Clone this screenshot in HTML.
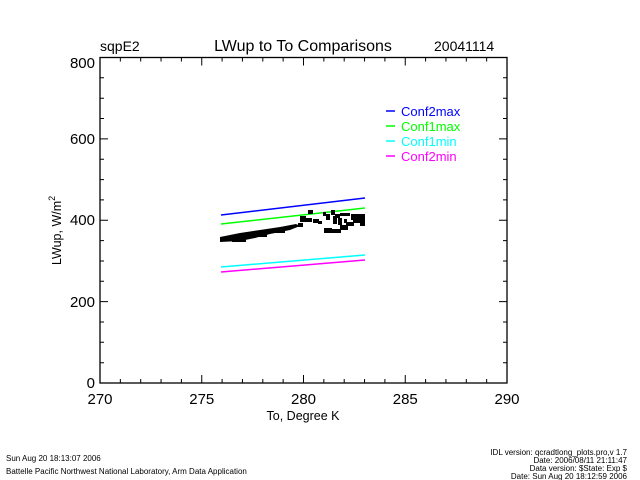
<!DOCTYPE html>
<html><head><meta charset="utf-8"><style>
html,body{margin:0;padding:0;background:#fff;}
svg{display:block;}
text{font-family:"Liberation Sans",sans-serif;fill:#000;}
</style></head><body>
<svg width="640" height="480" viewBox="0 0 640 480">
<rect width="640" height="480" fill="#fff"/>
<g stroke="#000" stroke-width="1.3" fill="none">
<rect x="100" y="57.5" width="407" height="325.5"/>
</g>
<g stroke="#000" stroke-width="1">
<path d="M120.35 383v-4M140.7 383v-4M161.05 383v-4M181.4 383v-4M222.1 383v-4M242.45 383v-4M262.8 383v-4M283.15 383v-4M323.85 383v-4M344.2 383v-4M364.55 383v-4M384.9 383v-4M425.6 383v-4M445.95 383v-4M466.3 383v-4M486.65 383v-4M201.75 383v-8M303.5 383v-8M405.25 383v-8"/>
<path d="M120.35 57.5v4M140.7 57.5v4M161.05 57.5v4M181.4 57.5v4M222.1 57.5v4M242.45 57.5v4M262.8 57.5v4M283.15 57.5v4M323.85 57.5v4M344.2 57.5v4M364.55 57.5v4M384.9 57.5v4M425.6 57.5v4M445.95 57.5v4M466.3 57.5v4M486.65 57.5v4M201.75 57.5v8M303.5 57.5v8M405.25 57.5v8"/>
<path d="M100 362.7h4M100 342.3h4M100 322h4M100 281.3h4M100 261h4M100 240.6h4M100 199.9h4M100 179.6h4M100 159.2h4M100 118.5h4M100 98.2h4M100 77.8h4M100 301.6h8M100 220.3h8M100 138.9h8"/>
<path d="M507 362.7h-4M507 342.3h-4M507 322h-4M507 281.3h-4M507 261h-4M507 240.6h-4M507 199.9h-4M507 179.6h-4M507 159.2h-4M507 118.5h-4M507 98.2h-4M507 77.8h-4M507 301.6h-8M507 220.3h-8M507 138.9h-8"/>
</g>
<g font-size="15" text-anchor="end">
<text x="95" y="388">0</text>
<text x="95" y="307">200</text>
<text x="95" y="225">400</text>
<text x="95" y="144">600</text>
<text x="95" y="68">800</text>
</g>
<g font-size="15" text-anchor="middle">
<text x="100" y="404">270</text>
<text x="201.75" y="404">275</text>
<text x="303.5" y="404">280</text>
<text x="405.25" y="404">285</text>
<text x="507" y="404">290</text>
</g>
<text x="303" y="420" font-size="12.5" text-anchor="middle">To, Degree K</text>
<text transform="translate(61,265) rotate(-90)" font-size="12.5">LWup, W/m<tspan font-size="9" dy="-6">2</tspan></text>
<text x="100" y="51" font-size="14">sqpE2</text>
<text x="303" y="51" font-size="16" text-anchor="middle">LWup to To Comparisons</text>
<text x="434" y="51" font-size="14">20041114</text>
<g stroke-width="1.5" fill="none">
<line x1="221" y1="215" x2="365" y2="198" stroke="#0000ff"/>
<line x1="221" y1="224" x2="365" y2="208" stroke="#00ff00"/>
<line x1="221" y1="267" x2="365" y2="255" stroke="#00ffff"/>
<line x1="221" y1="272" x2="365" y2="260" stroke="#ff00ff"/>
</g>
<g fill="#000">
<polygon points="220,237 240,233 260,230 280,227 296,224 300,226 290,230 270,234 255,238 240,241 220,242"/>
<rect x="232" y="239" width="14" height="3"/>
<rect x="255" y="234" width="12" height="3"/>
<rect x="275" y="230" width="10" height="3"/>
<rect x="300" y="216" width="6" height="6"/>
<rect x="298" y="223" width="5" height="4"/>
<rect x="308" y="210" width="5" height="4"/>
<rect x="304" y="218" width="8" height="4"/>
<rect x="313" y="219" width="6" height="4"/>
<rect x="318" y="221" width="4" height="3"/>
<rect x="323" y="212" width="3" height="4"/>
<rect x="326" y="214" width="4" height="6"/>
<rect x="331" y="210" width="4" height="5"/>
<rect x="333" y="216" width="4" height="8"/>
<rect x="335" y="214" width="5" height="4"/>
<rect x="338" y="218" width="4" height="7"/>
<rect x="340" y="213" width="6" height="3"/>
<rect x="344" y="219" width="3" height="4"/>
<rect x="346" y="213" width="4" height="3"/>
<rect x="348" y="222" width="6" height="4"/>
<rect x="351" y="214" width="6" height="6"/>
<rect x="353" y="219" width="10" height="4"/>
<rect x="357" y="214" width="8" height="6"/>
<rect x="324" y="228" width="8" height="5"/>
<rect x="331" y="229" width="10" height="4"/>
<rect x="340" y="225" width="8" height="5"/>
<rect x="346" y="222" width="6" height="4"/>
<rect x="360" y="220" width="5" height="6"/>
</g>
<g stroke-width="1.5">
<line x1="386" y1="111" x2="395" y2="111" stroke="#0000ff"/>
<line x1="386" y1="126" x2="395" y2="126" stroke="#00ff00"/>
<line x1="386" y1="141" x2="395" y2="141" stroke="#00ffff"/>
<line x1="386" y1="156" x2="395" y2="156" stroke="#ff00ff"/>
</g>
<g font-size="13">
<text x="401" y="116" style="fill:#0000ff">Conf2max</text>
<text x="401" y="131" style="fill:#00ff00">Conf1max</text>
<text x="401" y="146" style="fill:#00ffff">Conf1min</text>
<text x="401" y="161" style="fill:#ff00ff">Conf2min</text>
</g>
<g font-size="8">
<text x="6" y="461">Sun Aug 20 18:13:07 2006</text>
<text x="6" y="474">Battelle Pacific Northwest National Laboratory, Arm Data Application</text>
</g>
<g font-size="8" text-anchor="end">
<text x="627" y="455">IDL version: qcradtlong_plots.pro,v 1.7</text>
<text x="627" y="463">Date: 2006/08/11 21:11:47</text>
<text x="627" y="471">Data version: $State: Exp $</text>
<text x="627" y="479">Date: Sun Aug 20 18:12:59 2006</text>
</g>
</svg>
</body></html>
